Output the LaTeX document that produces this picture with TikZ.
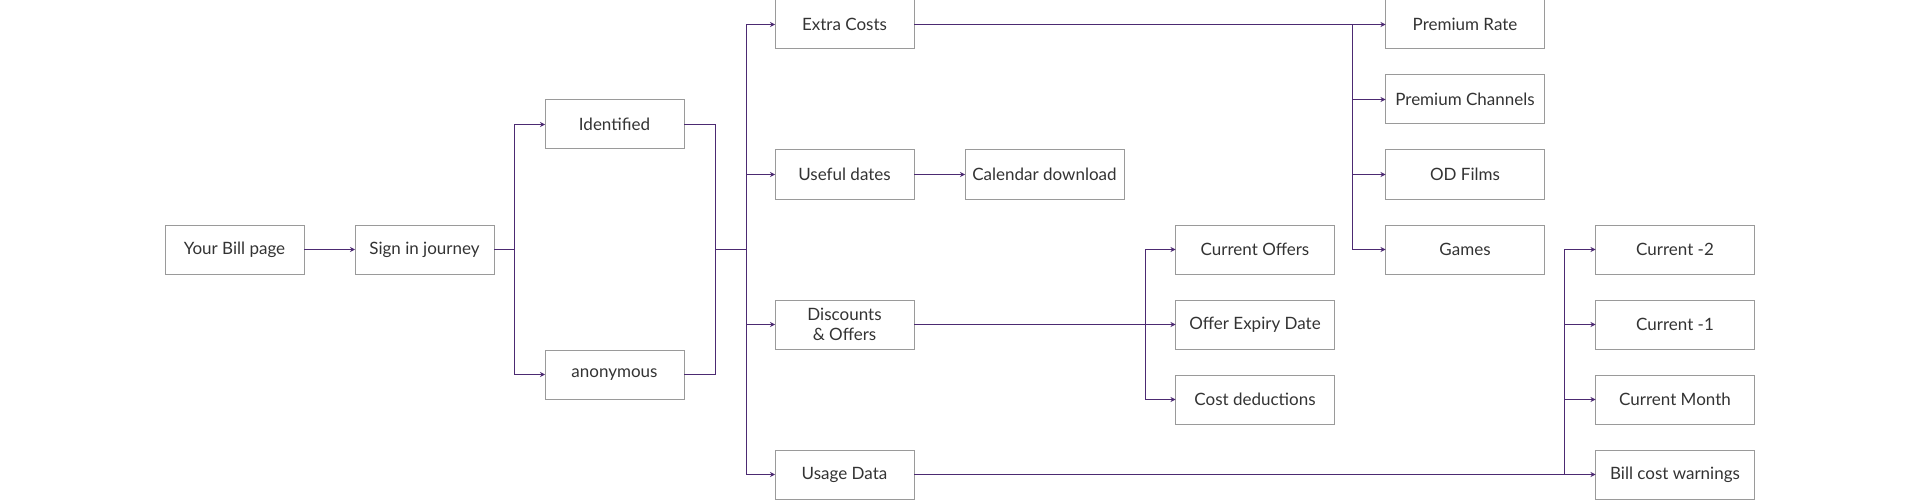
\documentclass[tikz,border=0pt]{standalone}
\usepackage{fontspec}
\setmainfont{Lato}
\usetikzlibrary{positioning, calc, arrows.meta}

\definecolor{linkpurple}{HTML}{4C2A72}
\definecolor{boxgray}{HTML}{9A9A9A}
\definecolor{textgray}{HTML}{333333}

\begin{document}
\begin{tikzpicture}[x=1pt, y=1pt, block/.style={rectangle,draw=boxgray,line width=1pt,minimum height=49pt,minimum width=139pt,inner sep=0pt,outer sep=0pt,align=center,text=textgray,font=\fontsize{17}{20}\selectfont}, wide/.style={block, minimum width=159pt}, link/.style={-{Stealth[length=5pt,width=5pt]}, draw=linkpurple, line width=1pt}, trunk/.style={-, draw=linkpurple, line width=1pt}, node distance = 26pt]
\useasboundingbox (0,0) rectangle (1920,-500);
\node (bill) [block] at (234.5,-249.5) {Your Bill page};
\node (sign) [block, right=51pt of bill] {Sign in journey};
\node (ident) [block, right=51pt of sign, yshift=125pt] {Identified};
\node (anon) [block, right=51pt of sign, yshift=-125pt] {anonymous};
\node (extra) [block] at (844.5,-24.5) {Extra Costs};
\node (useful) [block, below=101pt of extra] {Useful dates};
\node (disc) [block, below=101pt of useful] {Discounts\\ \& Offers};
\node (usage) [block, below=101pt of disc] {Usage Data};
\node (cal) [wide, right=51pt of useful] {Calendar download};
\node (prate) [wide] at (1465,-24.5) {Premium Rate};
\node (pchan) [wide, below=of prate] {Premium Channels};
\node (films) [wide, below=of pchan] {OD Films};
\node (games) [wide, below=of films] {Games};
\node (offers) [wide] at (1255,-249.5) {Current Offers};
\node (expiry) [wide, below=of offers] {Offer Expiry Date};
\node (deduct) [wide, below=of expiry] {Cost deductions};
\node (cur2) [wide] at (1675,-249.5) {Current -2};
\node (cur1) [wide, below=of cur2] {Current -1};
\node (month) [wide, below=of cur1] {Current Month};
\node (warn) [wide, below=of month] {Bill cost warnings};
  \begin{scope}
    \draw [link] (bill) -- (sign);
    \draw [link] (sign.east) -- ++(20pt,0) |- (ident.west);
    \draw [link] (sign.east) -- ++(20pt,0) |- (anon.west);
    \draw [trunk] (ident.east) -- ++(31pt,0) |- (anon.east);
    \coordinate (merge) at ($(sign.east)+(221pt,0)$);
    \coordinate (split) at ($(merge)+(31pt,0)$);
    \draw [trunk] (merge) -- (split);
    \draw [link] (split) |- (extra.west);
    \draw [link] (split) |- (useful.west);
    \draw [link] (split) |- (disc.west);
    \draw [link] (split) |- (usage.west);
    \draw [link] (useful) -- (cal);
    \draw [link] (extra) -- (prate);
    \coordinate (pfork) at ($(prate.west)+(-33pt,0)$);
    \draw [link] (pfork) |- (pchan.west);
    \draw [link] (pfork) |- (films.west);
    \draw [link] (pfork) |- (games.west);
    \draw [link] (disc) -- (expiry);
    \coordinate (ofork) at ($(expiry.west)+(-30pt,0)$);
    \draw [link] (ofork) |- (offers.west);
    \draw [link] (ofork) |- (deduct.west);
    \draw [link] (usage) -- (warn);
    \coordinate (cfork) at ($(warn.west)+(-31pt,0)$);
    \draw [link] (cfork) |- (cur2.west);
    \draw [link] (cfork) |- (cur1.west);
    \draw [link] (cfork) |- (month.west);
  \end{scope}
\end{tikzpicture}
\end{document}
